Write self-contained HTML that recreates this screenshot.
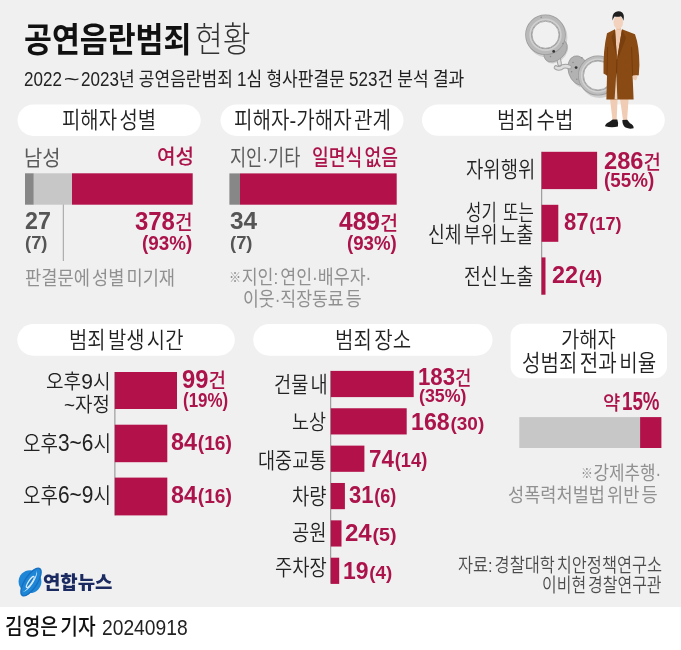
<!DOCTYPE html>
<html lang="ko"><head><meta charset="utf-8"><title>공연음란범죄 현황</title>
<style>
html,body{margin:0;padding:0;background:#fff}
#c{position:relative;width:681px;height:650px;overflow:hidden;background:#fff;font-family:"Liberation Sans","Noto Sans CJK KR",sans-serif}
#g{position:absolute;left:0;top:0;width:681px;height:606.6px;background:#f0f0f0}
.r{position:absolute}
.t{position:absolute;white-space:nowrap;line-height:1;transform-origin:0 0}
.t b{font-weight:700}
svg{position:absolute;left:0;top:0}
</style></head><body>
<div id="c"><div id="g"></div>
<svg width="681" height="650" viewBox="0 0 681 650">
<rect x="17.5" y="104.6" width="183.20" height="31.30" fill="#fff" rx="16"/>
<rect x="220.5" y="104.6" width="183.00" height="31.30" fill="#fff" rx="16"/>
<rect x="422" y="104.4" width="242.80" height="31.40" fill="#fff" rx="16"/>
<rect x="17.3" y="324" width="217.50" height="31.70" fill="#fff" rx="16"/>
<rect x="253.2" y="324" width="239.30" height="31.70" fill="#fff" rx="16"/>
<rect x="510.6" y="323.8" width="156.40" height="54.50" fill="#fff" rx="12"/>
<rect x="25" y="173.3" width="8.80" height="31.40" fill="#878787"/>
<rect x="33.8" y="173.3" width="38.20" height="31.40" fill="#c7c7c7"/>
<rect x="72" y="173.3" width="120.70" height="31.40" fill="#b3114a"/>
<rect x="62.8" y="204.5" width="1.00" height="56.50" fill="#a0a0a0"/>
<rect x="229.4" y="173.4" width="10.60" height="31.30" fill="#878787"/>
<rect x="240" y="173.4" width="156.70" height="31.30" fill="#b3114a"/>
<rect x="541.2" y="151.8" width="1.00" height="142.90" fill="#8c8c8c"/>
<rect x="541.6" y="151.8" width="55.50" height="37.30" fill="#b3114a"/>
<rect x="541.6" y="204.8" width="16.70" height="37.00" fill="#b3114a"/>
<rect x="541.6" y="257.4" width="3.90" height="37.30" fill="#b3114a"/>
<rect x="114.4" y="372" width="1.00" height="143.40" fill="#8c8c8c"/>
<rect x="114.8" y="372" width="62.20" height="37.00" fill="#b3114a"/>
<rect x="114.8" y="424.7" width="52.50" height="37.50" fill="#b3114a"/>
<rect x="114.8" y="477.6" width="52.50" height="37.80" fill="#b3114a"/>
<rect x="330.2" y="370.9" width="1.00" height="212.70" fill="#8c8c8c"/>
<rect x="330.8" y="370.9" width="82.90" height="26.20" fill="#b3114a"/>
<rect x="330.8" y="408.26" width="75.90" height="26.20" fill="#b3114a"/>
<rect x="330.8" y="445.62" width="33.60" height="26.20" fill="#b3114a"/>
<rect x="330.8" y="482.97999999999996" width="14.10" height="26.20" fill="#b3114a"/>
<rect x="330.8" y="520.3399999999999" width="10.70" height="26.20" fill="#b3114a"/>
<rect x="330.8" y="557.7" width="8.40" height="26.20" fill="#b3114a"/>
<rect x="519.3" y="417.1" width="120.80" height="30.90" fill="#c7c7c7"/>
<rect x="640.1" y="417.1" width="21.30" height="30.90" fill="#b3114a"/>
</svg>
<svg width="681" height="650" viewBox="0 0 681 650">
<defs>
<linearGradient id="sv" x1="0" y1="0" x2="1" y2="1"><stop offset="0" stop-color="#e2e2e2"/><stop offset=".5" stop-color="#c9c9c9"/><stop offset="1" stop-color="#b4b4b4"/></linearGradient>
</defs>
<!-- handcuffs -->
<g>
<g opacity=".13" transform="translate(1.6,2.4)">
<circle cx="545.5" cy="34.8" r="16.9" fill="none" stroke="#000" stroke-width="6.8"/>
<ellipse cx="555" cy="50.500" rx="13" ry="8.500" transform="rotate(-40 555 50.500)" fill="#000"/>
<circle cx="598" cy="75.5" r="17.2" fill="none" stroke="#000" stroke-width="5.6"/>
<ellipse cx="578.8" cy="70.5" rx="10.4" ry="15" transform="rotate(-18 578.8 70.5)" fill="#000"/>
</g>
<!-- right cuff -->
<ellipse cx="578.8" cy="70.5" rx="10.4" ry="15" transform="rotate(-18 578.8 70.5)" fill="#b2b2b2" stroke="#999" stroke-width=".8"/>
<circle cx="598" cy="75.5" r="17.25" fill="none" stroke="#9c9c9c" stroke-width="5.6"/>
<circle cx="598" cy="75.5" r="17.25" fill="none" stroke="#bdbdbd" stroke-width="4"/>
<circle cx="598" cy="75.5" r="16.4" fill="none" stroke="#d2d2d2" stroke-width="1.4"/>
<circle cx="598" cy="75.5" r="14.5" fill="#f0f0f0" stroke="#a6a6a6" stroke-width=".9"/>
<circle cx="576.1" cy="67.6" r="1.4" fill="#333"/>
<g fill="#8a8a8a"><circle cx="581.9" cy="57.8" r=".75"/><circle cx="573" cy="62.5" r=".75"/><circle cx="571.6" cy="71.8" r=".75"/><circle cx="576.8" cy="79.2" r=".75"/></g>
<!-- chain -->
<path d="M558.600 58.500 L559.600 64 M556 67.500 Q559.500 69.800 563 66.500 Q566 65.500 569.500 67" fill="none" stroke="#a2a2a2" stroke-width="4.600" stroke-linecap="round"/>
<path d="M558.600 58.500 L559.600 64 M556 67.500 Q559.500 69.800 563 66.500 Q566 65.500 569.500 67" fill="none" stroke="#dedede" stroke-width="2.600" stroke-linecap="round"/>
<!-- left cuff -->
<ellipse cx="555.6" cy="50.8" rx="13.4" ry="9" transform="rotate(-42 555.6 50.8)" fill="#b2b2b2" stroke="#999" stroke-width=".8"/>
<circle cx="545.5" cy="34.8" r="16.9" fill="none" stroke="#9c9c9c" stroke-width="6.8"/>
<circle cx="545.5" cy="34.8" r="16.9" fill="none" stroke="#b9b9b9" stroke-width="5.2"/>
<circle cx="545.5" cy="34.8" r="15.4" fill="none" stroke="#cfcfcf" stroke-width="1.6"/>
<circle cx="545.5" cy="34.8" r="13.5" fill="#f0f0f0" stroke="#a6a6a6" stroke-width=".9"/>
<circle cx="553.7" cy="51.4" r="1.4" fill="#333"/>
<g fill="#8a8a8a"><circle cx="562.9" cy="43.500" r=".75"/><circle cx="550.5" cy="56.5" r=".75"/><circle cx="541.2" cy="17.2" r=".75"/></g>
</g>
<!-- man -->
<g>
<path d="M610 99 L617.6 99 L616.6 121 L612.6 121 Z M620 99 L628.6 99 L627 121.5 L623.2 121.5 Z" fill="#f0ccb4"/>
<path d="M605 126.2 q.3 -2.6 4.5 -4.4 l3.2 -2.4 l4.6 .2 q1.2 3 .6 6.8 q-6 1.6 -12.9 -.2z" fill="#1c1c1c"/>
<path d="M622.4 120 l4.8 -.2 l2.8 3.4 q4 2 3.6 5 q-4 1.2 -8 -.6 q-3.6 -2.6 -3.2 -7.6z" fill="#1c1c1c"/>
<rect x="616.3" y="26" width="4.6" height="8" fill="#e9c0a6"/>
<path d="M613.5 30 L623.5 30 L619 61 L616 61 Z" fill="#f0ccb4"/>
<path d="M607 33.2 L615 29.2 L617 59.5 L622 29.2 L635 34.2 Q639.3 46 639.4 65 L638.8 75.2 L632.6 76 L633.6 99.4 L606.4 99.4 L607 75.5 L603.5 73.4 Q603 50 607 33.2 Z" fill="#8a4a13"/>
<path d="M615 29.2 L611.5 37 L616 55 L617 59.5 Z M622 29.2 L626 38 L619.5 55 L617 59.5 Z" fill="#7a3f0e"/>
<path d="M617 59.5 L615.6 99.4" stroke="#6d370b" stroke-width=".9" fill="none"/>
<path d="M616.3 72 L614.6 99.6 L617.4 99.6 Z" fill="#e6d2c2"/>
<path d="M631.6 47 L632.6 76" stroke="#6d370b" stroke-width=".7" fill="none"/>
<path d="M607.6 47 L607 75.5" stroke="#6d370b" stroke-width=".7" fill="none"/>
<path d="M632.8 75.6 l4.4 -.4 q.6 3 -1.2 5 q-2.2 .6 -3 -1.6z" fill="#f0ccb4"/>
<ellipse cx="618.3" cy="22.3" rx="4.8" ry="6.6" fill="#f3d2bd"/>
<path d="M612.6 20.5 q-1 -6.5 3 -8.6 q3.6 -1.6 6.6 .6 q2.6 2.4 1.2 8.2 q-.8 -3 -2.4 -4.4 q-3.4 1 -6.4 .2 q-1.4 1.400 -2 4z" fill="#1e1e1e"/>
</g>
<!-- logo -->
<circle cx="30" cy="581.6" r="11.4" fill="#1e86d6"/>
<g transform="translate(31 582) rotate(33)">
<ellipse cx="0" cy="0" rx="6.2" ry="16" fill="#1e86d6" stroke="#176fc0" stroke-width="1.3"/>
<path d="M-1.5 -12.6 A4.6 12.8 0 0 1 -1.5 12.6 A3.2 12.8 0 0 0 -1.5 -12.600Z" fill="#d4ecfc"/>
<ellipse cx="-.6" cy=".4" rx="1.7" ry="6.6" fill="#1a78c8" stroke="#d4ecfc" stroke-width="1.3"/>
</g>
</svg>

<span class="t" style="left:24.09px;top:23.46px;font-size:34.09px;font-weight:700;color:#111;word-spacing:-0.16em;transform:scaleX(0.8900)">공연음란범죄</span>
<span class="t" style="left:194.99px;top:22.90px;font-size:34.78px;font-weight:300;color:#333;word-spacing:-0.16em;transform:scaleX(0.8676)">현황</span>
<span class="t" style="left:24.45px;top:69.70px;font-size:19.89px;font-weight:400;color:#222;word-spacing:-0.03em;transform:scaleX(0.8571)">2022<span style="display:inline-block;transform:scaleX(1.6);margin:0 .27em">~</span>2023년 공연음란범죄 1심 형사판결문 523건 분석 결과</span>
<span class="t" style="left:62.10px;top:110.45px;font-size:22.53px;font-weight:350;color:#222;word-spacing:-0.16em;transform:scaleX(0.8868)">피해자 성별</span>
<span class="t" style="left:233.59px;top:110.45px;font-size:22.53px;font-weight:350;color:#222;word-spacing:-0.16em;transform:scaleX(0.8930)">피해자-가해자 관계</span>
<span class="t" style="left:496.99px;top:110.45px;font-size:22.53px;font-weight:350;color:#222;word-spacing:-0.16em;transform:scaleX(0.8940)">범죄 수법</span>
<span class="t" style="left:68.51px;top:330.25px;font-size:22.42px;font-weight:350;color:#222;word-spacing:-0.16em;transform:scaleX(0.8874)">범죄 발생 시간</span>
<span class="t" style="left:334.69px;top:330.25px;font-size:22.42px;font-weight:350;color:#222;word-spacing:-0.16em;transform:scaleX(0.8946)">범죄 장소</span>
<span class="t" style="left:560.81px;top:329.57px;font-size:21.43px;font-weight:350;color:#222;word-spacing:-0.16em;transform:scaleX(0.9263)">가해자</span>
<span class="t" style="left:522.00px;top:352.44px;font-size:22.86px;font-weight:350;color:#222;word-spacing:-0.16em;transform:scaleX(0.8790)">성범죄 전과 비율</span>
<span class="t" style="left:23.52px;top:146.88px;font-size:20.99px;font-weight:400;color:#5a5a5a;word-spacing:-0.16em;transform:scaleX(0.9441)">남성</span>
<span class="t" style="left:156.79px;top:147.09px;font-size:20.54px;font-weight:500;color:#ab134a;word-spacing:-0.16em;transform:scaleX(0.9826)">여성</span>
<span class="t" style="left:25.30px;top:208.88px;font-size:24.14px;font-weight:700;color:#555;word-spacing:-0.16em;transform:scaleX(0.9638)">27</span>
<span class="t" style="left:25.08px;top:234.43px;font-size:18.94px;font-weight:700;color:#555;word-spacing:-0.16em;transform:scaleX(0.9713)">(7)</span>
<span class="t" style="left:135.42px;top:208.73px;font-size:25.13px;font-weight:700;color:#ab134a;word-spacing:-0.16em;transform:scaleX(0.9526)"><b>378</b><span style="font-size:.8em;font-weight:500">건</span></span>
<span class="t" style="left:141.86px;top:234.18px;font-size:19.36px;font-weight:700;color:#ab134a;word-spacing:-0.16em;transform:scaleX(0.9727)">(93%)</span>
<span class="t" style="left:25.12px;top:268.61px;font-size:19.34px;font-weight:400;color:#909090;word-spacing:-0.16em;transform:scaleX(0.9118)">판결문에 성별 미기재</span>
<span class="t" style="left:230.02px;top:147.18px;font-size:21.10px;font-weight:400;color:#5a5a5a;word-spacing:-0.16em;transform:scaleX(0.8300)">지인·기타</span>
<span class="t" style="left:311.51px;top:146.98px;font-size:21.09px;font-weight:500;color:#ab134a;word-spacing:-0.16em;transform:scaleX(0.8641)">일면식 없음</span>
<span class="t" style="left:230.21px;top:208.93px;font-size:23.80px;font-weight:700;color:#555;word-spacing:-0.16em;transform:scaleX(1.0252)">34</span>
<span class="t" style="left:229.78px;top:234.43px;font-size:18.94px;font-weight:700;color:#555;word-spacing:-0.16em;transform:scaleX(0.9713)">(7)</span>
<span class="t" style="left:339.11px;top:209.27px;font-size:24.87px;font-weight:700;color:#ab134a;word-spacing:-0.16em;transform:scaleX(0.9888)"><b>489</b><span style="font-size:.8em;font-weight:500">건</span></span>
<span class="t" style="left:347.47px;top:233.94px;font-size:19.68px;font-weight:700;color:#ab134a;word-spacing:-0.16em;transform:scaleX(0.9490)">(93%)</span>
<span class="t" style="left:229.17px;top:267.80px;font-size:19.89px;font-weight:400;color:#909090;word-spacing:-0.16em;transform:scaleX(0.8695)"><span style="font-size:.7em;position:relative;top:-.1em;margin-right:.05em">※</span>지인: 연인·배우자·</span>
<span class="t" style="left:242.92px;top:289.70px;font-size:19.89px;font-weight:400;color:#909090;word-spacing:-0.16em;transform:scaleX(0.8650)">이웃·직장동료 등</span>
<span class="t" style="left:465.75px;top:159.36px;font-size:21.76px;font-weight:350;color:#222;word-spacing:-0.16em;transform:scaleX(0.8655)">자위행위</span>
<span class="t" style="left:465.66px;top:202.77px;font-size:21.32px;font-weight:350;color:#222;word-spacing:0.1em;transform:scaleX(0.7850)">성기 또는</span>
<span class="t" style="left:428.22px;top:224.46px;font-size:21.76px;font-weight:350;color:#222;word-spacing:-0.16em;transform:scaleX(0.8416)">신체 부위 노출</span>
<span class="t" style="left:464.20px;top:266.07px;font-size:21.56px;font-weight:350;color:#222;word-spacing:-0.16em;transform:scaleX(0.8484)">전신 노출</span>
<span class="t" style="left:604.09px;top:148.81px;font-size:24.61px;font-weight:700;color:#ab134a;word-spacing:-0.16em;transform:scaleX(0.9613)"><b>286</b><span style="font-size:.8em;font-weight:500">건</span></span>
<span class="t" style="left:603.86px;top:171.04px;font-size:19.68px;font-weight:700;color:#ab134a;word-spacing:-0.16em;transform:scaleX(0.9569)">(55%)</span>
<span class="t" style="left:563.94px;top:210.62px;font-size:23.22px;font-weight:700;color:#ab134a;word-spacing:-0.16em;transform:scaleX(0.9516)"><b>87</b><span style="font-size:.82em;margin-left:.04em">(17)</span></span>
<span class="t" style="left:552.40px;top:263.68px;font-size:23.45px;font-weight:700;color:#ab134a;word-spacing:-0.16em;transform:scaleX(0.9985)"><b>22</b><span style="font-size:.82em;margin-left:.04em">(4)</span></span>
<span class="t" style="left:46.04px;top:371.06px;font-size:20.44px;font-weight:350;color:#222;word-spacing:-0.16em;transform:scaleX(0.9356)">오후<span style="font-size:1.1em">9</span>시</span>
<span class="t" style="left:64.45px;top:394.80px;font-size:20.00px;font-weight:350;color:#222;word-spacing:-0.16em;transform:scaleX(0.9467)">~자정</span>
<span class="t" style="left:22.65px;top:431.41px;font-size:21.87px;font-weight:350;color:#222;word-spacing:-0.16em;transform:scaleX(0.8693)">오후<span style="font-size:1.1em">3~6</span>시</span>
<span class="t" style="left:22.65px;top:482.81px;font-size:21.87px;font-weight:350;color:#222;word-spacing:-0.16em;transform:scaleX(0.8693)">오후<span style="font-size:1.1em">6~9</span>시</span>
<span class="t" style="left:181.85px;top:366.87px;font-size:25.53px;font-weight:700;color:#ab134a;word-spacing:-0.16em;transform:scaleX(0.9307)"><b>99</b><span style="font-size:.8em;font-weight:500">건</span></span>
<span class="t" style="left:182.55px;top:389.87px;font-size:20.21px;font-weight:700;color:#ab134a;word-spacing:-0.16em;transform:scaleX(0.8393)">(19%)</span>
<span class="t" style="left:171.30px;top:430.08px;font-size:24.14px;font-weight:700;color:#ab134a;word-spacing:-0.16em;transform:scaleX(0.9694)"><b>84</b><span style="font-size:.82em;margin-left:.04em">(16)</span></span>
<span class="t" style="left:171.30px;top:483.08px;font-size:24.14px;font-weight:700;color:#ab134a;word-spacing:-0.16em;transform:scaleX(0.9694)"><b>84</b><span style="font-size:.82em;margin-left:.04em">(16)</span></span>
<span class="t" style="left:273.59px;top:375.37px;font-size:21.32px;font-weight:350;color:#222;word-spacing:-0.16em;transform:scaleX(0.8756)">건물 내</span>
<span class="t" style="left:291.87px;top:411.78px;font-size:20.88px;font-weight:350;color:#222;word-spacing:-0.16em;transform:scaleX(0.8895)">노상</span>
<span class="t" style="left:257.92px;top:449.77px;font-size:21.65px;font-weight:350;color:#222;word-spacing:-0.16em;transform:scaleX(0.8597)">대중교통</span>
<span class="t" style="left:291.86px;top:485.68px;font-size:21.21px;font-weight:350;color:#222;word-spacing:-0.16em;transform:scaleX(0.8837)">차량</span>
<span class="t" style="left:292.46px;top:522.18px;font-size:21.10px;font-weight:350;color:#222;word-spacing:-0.16em;transform:scaleX(0.8887)">공원</span>
<span class="t" style="left:274.56px;top:558.47px;font-size:21.32px;font-weight:350;color:#222;word-spacing:-0.16em;transform:scaleX(0.8802)">주차장</span>
<span class="t" style="left:418.27px;top:364.89px;font-size:24.74px;font-weight:700;color:#ab134a;word-spacing:-0.16em;transform:scaleX(0.8993)"><b>183</b><span style="font-size:.8em;font-weight:500">건</span></span>
<span class="t" style="left:418.71px;top:387.23px;font-size:18.94px;font-weight:700;color:#ab134a;word-spacing:-0.16em;transform:scaleX(0.9411)">(35%)</span>
<span class="t" style="left:411.11px;top:410.68px;font-size:23.45px;font-weight:700;color:#ab134a;word-spacing:-0.16em;transform:scaleX(0.9895)"><b>168</b><span style="font-size:.82em;margin-left:.04em">(30)</span></span>
<span class="t" style="left:368.90px;top:446.99px;font-size:23.84px;font-weight:700;color:#ab134a;word-spacing:-0.16em;transform:scaleX(0.9389)"><b>74</b><span style="font-size:.82em;margin-left:.04em">(14)</span></span>
<span class="t" style="left:349.16px;top:484.37px;font-size:23.56px;font-weight:700;color:#ab134a;word-spacing:-0.16em;transform:scaleX(0.9341)"><b>31</b><span style="font-size:.82em;margin-left:.04em">(6)</span></span>
<span class="t" style="left:344.88px;top:521.80px;font-size:23.33px;font-weight:700;color:#ab134a;word-spacing:-0.16em;transform:scaleX(1.0302)"><b>24</b><span style="font-size:.82em;margin-left:.04em">(5)</span></span>
<span class="t" style="left:342.52px;top:559.52px;font-size:23.22px;font-weight:700;color:#ab134a;word-spacing:-0.16em;transform:scaleX(0.9874)"><b>19</b><span style="font-size:.82em;margin-left:.04em">(4)</span></span>
<span class="t" style="left:603.27px;top:394.01px;font-size:19.46px;font-weight:500;color:#ab134a;word-spacing:-0.16em;transform:scaleX(0.9653)">약</span>
<span class="t" style="left:621.98px;top:389.28px;font-size:25.14px;font-weight:700;color:#ab134a;word-spacing:-0.16em;transform:scaleX(0.7455)">15%</span>
<span class="t" style="left:581.11px;top:463.81px;font-size:19.67px;font-weight:400;color:#909090;word-spacing:-0.16em;transform:scaleX(0.8585)"><span style="font-size:.7em;position:relative;top:-.1em;margin-right:.05em">※</span>강제추행·</span>
<span class="t" style="left:508.12px;top:485.81px;font-size:19.45px;font-weight:400;color:#909090;word-spacing:-0.16em;transform:scaleX(0.9035)">성폭력처벌법 위반 등</span>
<span class="t" style="left:457.65px;top:556.32px;font-size:19.12px;font-weight:350;color:#4c4c4c;word-spacing:-0.16em;transform:scaleX(0.8563)">자료: 경찰대학 치안정책연구소</span>
<span class="t" style="left:541.96px;top:575.92px;font-size:19.12px;font-weight:350;color:#4c4c4c;word-spacing:-0.16em;transform:scaleX(0.8368)">이비현 경찰연구관</span>
<span class="t" style="left:5.35px;top:616.48px;font-size:22.15px;font-weight:500;color:#111;word-spacing:-0.16em;transform:scaleX(0.8668)">김영은 기자</span>
<span class="t" style="left:101.84px;top:617.03px;font-size:21.83px;font-weight:350;color:#222;word-spacing:-0.16em;transform:scaleX(0.8814)">20240918</span>
<span class="t" style="left:43.46px;top:573.60px;font-size:18.32px;font-weight:900;color:#1b2b62;word-spacing:-0.16em;transform:scaleX(1.0311)">연합뉴스</span>
</div></body></html>
